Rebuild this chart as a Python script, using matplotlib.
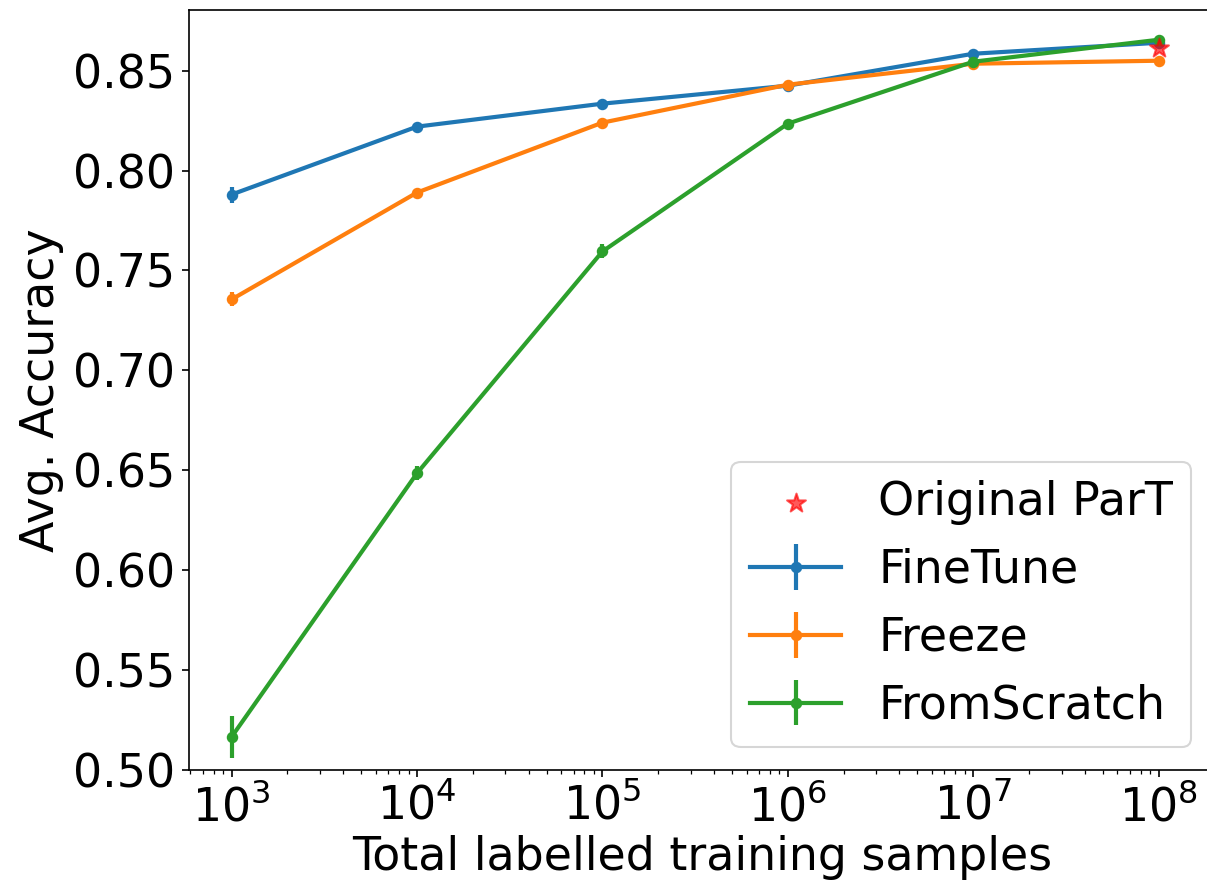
import numpy as np
import matplotlib
matplotlib.use("Agg")
import matplotlib.pyplot as plt

# 数据
samples = [1e3, 1e4, 1e5, 1e6, 1e7, 1e8]

finetune = [0.788, 0.822, 0.8335, 0.8425, 0.8585, 0.864]
finetune_err = [0.004, 0.0012, 0.0012, 0.0012, 0.0012, 0.0012]

freeze = [0.7355, 0.789, 0.824, 0.843, 0.8535, 0.855]
freeze_err = [0.0035, 0.0012, 0.0012, 0.0012, 0.0012, 0.0012]

fromscratch = [0.5165, 0.6485, 0.7595, 0.8235, 0.8545, 0.8655]
fromscratch_err = [0.0105, 0.0035, 0.0035, 0.0012, 0.0012, 0.0012]

original_x = [1e8]
original_y = [0.8615]

plt.rcParams['font.size'] = 22

fig = plt.figure(figsize=(1207 / 150, 889 / 150), dpi=150)
# 右侧边框被裁掉（参考图如此）
ax = fig.add_axes([0.157, 0.134, 0.849, 0.855])

ax.scatter(original_x, original_y, marker='*', s=90, color='red', alpha=0.65,
           zorder=5, label='Original ParT')
ax.errorbar(samples, finetune, yerr=finetune_err, marker='o', markersize=4.5,
            linewidth=2, elinewidth=2, color='#1f77b4', label='FineTune')
ax.errorbar(samples, freeze, yerr=freeze_err, marker='o', markersize=4.5,
            linewidth=2, elinewidth=2, color='#ff7f0e', label='Freeze')
ax.errorbar(samples, fromscratch, yerr=fromscratch_err, marker='o', markersize=4.5,
            linewidth=2, elinewidth=2, color='#2ca02c', label='FromScratch')

ax.set_xscale('log')
ax.set_xlim(10 ** 2.773, 10 ** 8.30)
ax.set_ylim(0.5, 0.8805)
ax.set_yticks([0.50, 0.55, 0.60, 0.65, 0.70, 0.75, 0.80, 0.85])
ax.set_xticks([1e3, 1e4, 1e5, 1e6, 1e7, 1e8])

ax.set_xlabel('Total labelled training samples', labelpad=2)
ax.set_ylabel('Avg. Accuracy')
ax.legend(loc='lower right')

fig.savefig('out.png', dpi=150)
